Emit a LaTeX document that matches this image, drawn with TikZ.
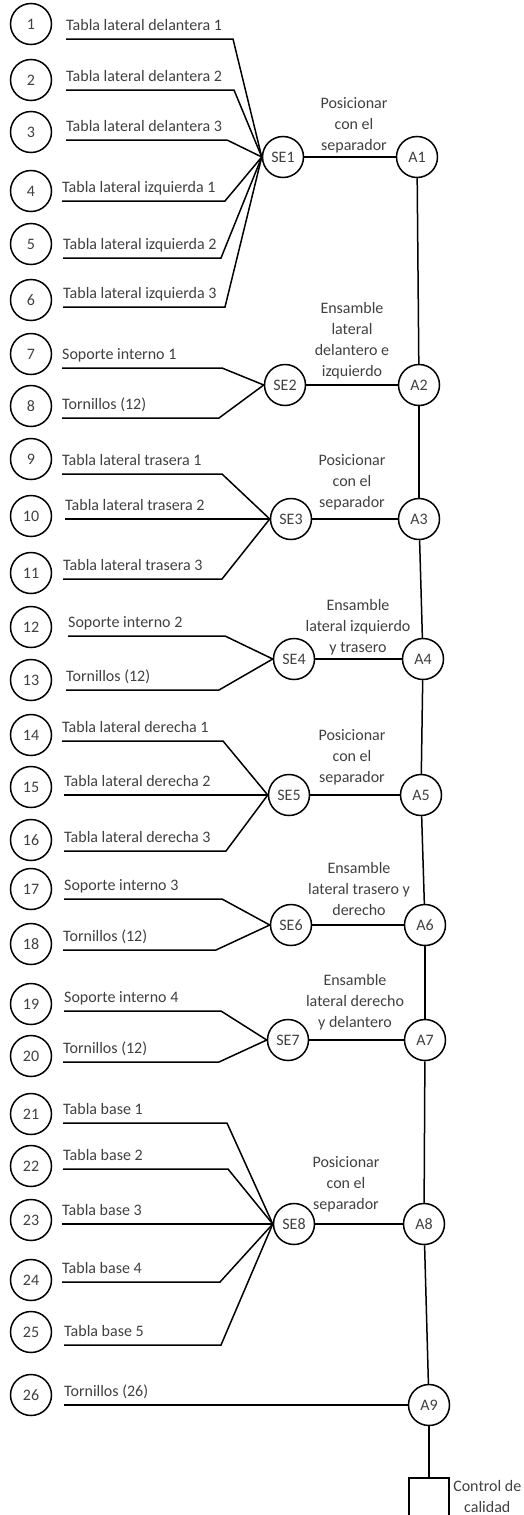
\documentclass[tikz,border=0pt]{standalone}
\usepackage{fontspec}
\setmainfont{Carlito}
\usetikzlibrary{positioning}

\begin{document}
\begin{tikzpicture}[x=1pt, y=-1pt,
    every node/.style={font=\fontsize{16}{21}\selectfont, text=black!75},
    part/.style={draw, circle, minimum size=41pt, inner sep=0pt, line width=1.5pt},
    lbl/.style={anchor=south west, inner xsep=0pt, inner ysep=8pt, text depth=0pt},
    op/.style={align=center},
    conn/.style={line width=1.5pt}]
    \path[use as bounding box, clip] (0,0) rectangle (524,1515);

    % Sub-assemblies and assemblies
    \node (se1) [part] at (283,157) {SE1};
    \node (a1) [part] at (417,157) {A1};
    \node (se2) [part] at (285,385) {SE2};
    \node (a2) [part] at (419,385) {A2};
    \node (se3) [part] at (291,519) {SE3};
    \node (a3) [part] at (419,519) {A3};
    \node (se4) [part] at (294,659) {SE4};
    \node (a4) [part] at (423,659) {A4};
    \node (se5) [part] at (289,795) {SE5};
    \node (a5) [part] at (421,795) {A5};
    \node (se6) [part] at (291,925) {SE6};
    \node (a6) [part] at (425,925) {A6};
    \node (se7) [part] at (288,1040) {SE7};
    \node (a7) [part] at (425,1040) {A7};
    \node (se8) [part] at (294,1224) {SE8};
    \node (a8) [part] at (424,1224) {A8};
    \node (a9) [part] at (429,1405) {A9};
    \node (qc) [draw, line width=1.5pt, minimum width=40pt, minimum height=70pt, anchor=north] at (429,1477) {};
    \node (qctext) [op, below right=0pt and 0pt of qc.north east] {Control de\\calidad};

    % Operations
    \node (op1) [op] at (354,125) {Posicionar\\con el\\separador};
    \node (op2) [op] at (352,341) {Ensamble\\lateral\\delantero e\\izquierdo};
    \node (op3) [op] at (352,482) {Posicionar\\con el\\separador};
    \node (op4) [op] at (358,627) {Ensamble\\lateral izquierdo\\y trasero};
    \node (op5) [op] at (352,757) {Posicionar\\con el\\separador};
    \node (op6) [op] at (359,889) {Ensamble\\lateral trasero y\\derecho};
    \node (op7) [op] at (355,1002) {Ensamble\\lateral derecho\\y delantero};
    \node (op8) [op] at (346,1184) {Posicionar\\con el\\separador};

    % Parts
    \node (p1) [part] at (31,24) {1};
    \node (t1) [lbl] at (66,39) {Tabla lateral delantera 1};
    \node (p2) [part] at (31,80) {2};
    \node (t2) [lbl] at (66,90) {Tabla lateral delantera 2};
    \node (p3) [part] at (31,132) {3};
    \node (t3) [lbl] at (66,140) {Tabla lateral delantera 3};
    \node (p4) [part] at (31,191) {4};
    \node (t4) [lbl] at (62,201) {Tabla lateral izquierda 1};
    \node (p5) [part] at (31,244) {5};
    \node (t5) [lbl] at (63,258) {Tabla lateral izquierda 2};
    \node (p6) [part] at (31,300) {6};
    \node (t6) [lbl] at (63,307) {Tabla lateral izquierda 3};
    \node (p7) [part] at (31,354) {7};
    \node (t7) [lbl] at (62,368) {Soporte interno 1};
    \node (p8) [part] at (31,406) {8};
    \node (t8) [lbl] at (62,418) {Tornillos (12)};
    \node (p9) [part] at (31,459) {9};
    \node (t9) [lbl] at (62,474) {Tabla lateral trasera 1};
    \node (p10) [part] at (31,516) {10};
    \node (t10) [lbl] at (65,519) {Tabla lateral trasera 2};
    \node (p11) [part] at (31,573) {11};
    \node (t11) [lbl] at (63,579) {Tabla lateral trasera 3};
    \node (p12) [part] at (31,627) {12};
    \node (t12) [lbl] at (68,636) {Soporte interno 2};
    \node (p13) [part] at (31,680) {13};
    \node (t13) [lbl] at (66,690) {Tornillos (12)};
    \node (p14) [part] at (31,735) {14};
    \node (t14) [lbl] at (62,741) {Tabla lateral derecha 1};
    \node (p15) [part] at (31,787) {15};
    \node (t15) [lbl] at (64,795) {Tabla lateral derecha 2};
    \node (p16) [part] at (31,840) {16};
    \node (t16) [lbl] at (64,851) {Tabla lateral derecha 3};
    \node (p17) [part] at (31,889) {17};
    \node (t17) [lbl] at (64,899) {Soporte interno 3};
    \node (p18) [part] at (31,944) {18};
    \node (t18) [lbl] at (63,950) {Tornillos (12)};
    \node (p19) [part] at (31,1004) {19};
    \node (t19) [lbl] at (64,1011) {Soporte interno 4};
    \node (p20) [part] at (31,1056) {20};
    \node (t20) [lbl] at (63,1062) {Tornillos (12)};
    \node (p21) [part] at (31,1114) {21};
    \node (t21) [lbl] at (63,1123) {Tabla base 1};
    \node (p22) [part] at (31,1166) {22};
    \node (t22) [lbl] at (63,1169) {Tabla base 2};
    \node (p23) [part] at (31,1220) {23};
    \node (t23) [lbl] at (62,1224) {Tabla base 3};
    \node (p24) [part] at (31,1280) {24};
    \node (t24) [lbl] at (62,1282) {Tabla base 4};
    \node (p25) [part] at (31,1332) {25};
    \node (t25) [lbl] at (64,1345) {Tabla base 5};
    \node (p26) [part] at (31,1395) {26};
    \node (t26) [lbl] at (64,1405) {Tornillos (26)};

    % Connectors into sub-assemblies
    \draw[conn] (t1.south west) -- ++(167,0) -- (se1.west);
    \draw[conn] (t2.south west) -- ++(168,0) -- (se1.west);
    \draw[conn] (t3.south west) -- ++(161,0) -- (se1.west);
    \draw[conn] (t4.south west) -- ++(163,0) -- (se1.west);
    \draw[conn] (t5.south west) -- ++(158,0) -- (se1.west);
    \draw[conn] (t6.south west) -- ++(162,0) -- (se1.west);
    \draw[conn] (t7.south west) -- ++(160,0) -- (se2.west);
    \draw[conn] (t8.south west) -- ++(157,0) -- (se2.west);
    \draw[conn] (t9.south west) -- ++(160,0) -- (se3.west);
    \draw[conn] (t10.south west) -- (se3.west);
    \draw[conn] (t11.south west) -- ++(159,0) -- (se3.west);
    \draw[conn] (t12.south west) -- ++(157,0) -- (se4.west);
    \draw[conn] (t13.south west) -- ++(153,0) -- (se4.west);
    \draw[conn] (t14.south west) -- ++(161,0) -- (se5.west);
    \draw[conn] (t15.south west) -- (se5.west);
    \draw[conn] (t16.south west) -- ++(162,0) -- (se5.west);
    \draw[conn] (t17.south west) -- ++(158,0) -- (se6.west);
    \draw[conn] (t18.south west) -- ++(153,0) -- (se6.west);
    \draw[conn] (t19.south west) -- ++(157,0) -- (se7.west);
    \draw[conn] (t20.south west) -- ++(156,0) -- (se7.west);
    \draw[conn] (t21.south west) -- ++(164,0) -- (se8.west);
    \draw[conn] (t22.south west) -- ++(165,0) -- (se8.west);
    \draw[conn] (t23.south west) -- (se8.west);
    \draw[conn] (t24.south west) -- ++(158,0) -- (se8.west);
    \draw[conn] (t25.south west) -- ++(157,0) -- (se8.west);
    \draw[conn] (t26.south west) -- (a9.west);

    % Main line
    \draw[conn] (se1) -- (a1);
    \draw[conn] (se2) -- (a2);
    \draw[conn] (se3) -- (a3);
    \draw[conn] (se4) -- (a4);
    \draw[conn] (se5) -- (a5);
    \draw[conn] (se6) -- (a6);
    \draw[conn] (se7) -- (a7);
    \draw[conn] (se8) -- (a8);
    \draw[conn] (a1) -- (a2);
    \draw[conn] (a2) -- (a3);
    \draw[conn] (a3) -- (a4);
    \draw[conn] (a4) -- (a5);
    \draw[conn] (a5) -- (a6);
    \draw[conn] (a6) -- (a7);
    \draw[conn] (a7) -- (a8);
    \draw[conn] (a8) -- (a9);
    \draw[conn] (a9) -- (qc);
\end{tikzpicture}
\end{document}
